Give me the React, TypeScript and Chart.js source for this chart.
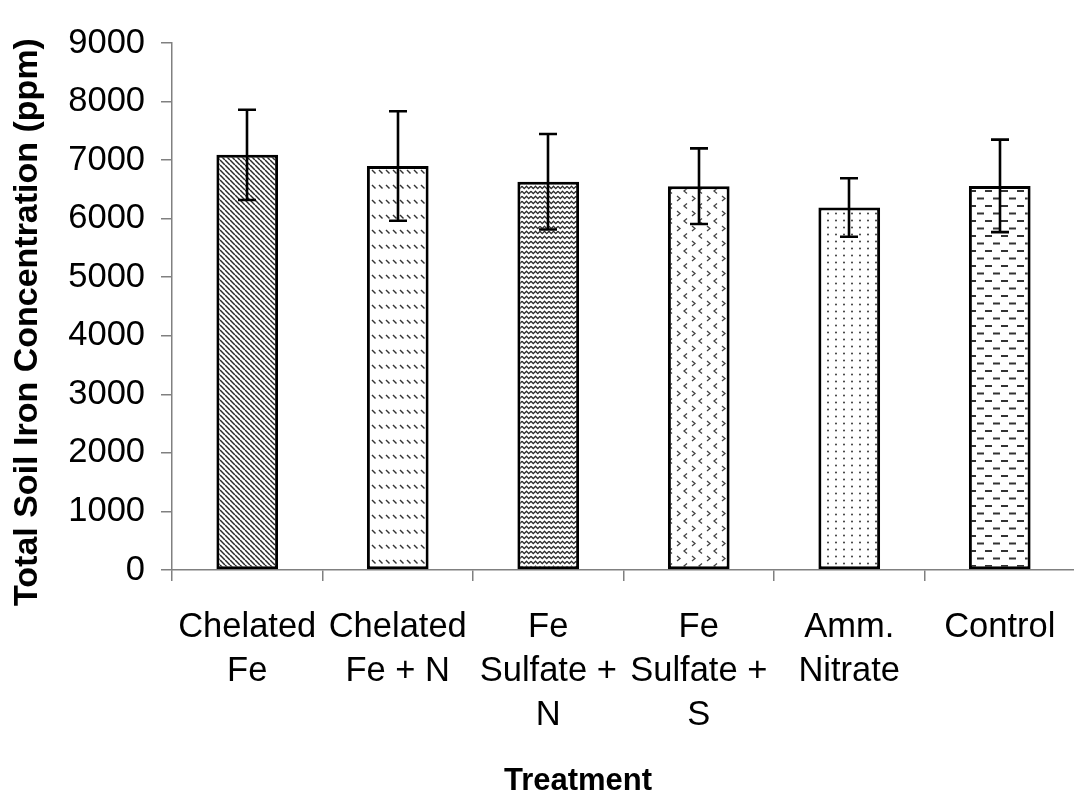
import React, { useEffect, useRef } from "react";
import { Chart, registerables } from "chart.js";

Chart.register(...registerables);

const categories: string[][] = [
  ["Chelated", "Fe"],
  ["Chelated", "Fe + N"],
  ["Fe", "Sulfate +", "N"],
  ["Fe", "Sulfate +", "S"],
  ["Amm.", "Nitrate"],
  ["Control"],
];
const meanIron = [7090, 6900, 6630, 6555, 6190, 6560];
const errorIron = [770, 935, 815, 645, 500, 790];
const yMin = 0;
const yMax = 9000;
const yStep = 1000;
const yTitle = "Total Soil Iron Concentration (ppm)";
const xTitle = "Treatment";

const FONT = "'Liberation Sans', Arial, sans-serif";

function makeTile(w: number, h: number, draw: (g: CanvasRenderingContext2D) => void) {
  const c = document.createElement("canvas");
  c.width = w;
  c.height = h;
  const g = c.getContext("2d")!;
  g.fillStyle = "#ffffff";
  g.fillRect(0, 0, w, h);
  draw(g);
  return c;
}

function buildPatterns(ctx: CanvasRenderingContext2D) {
  const tiles: HTMLCanvasElement[] = [];
  // 1: dense downward diagonal lines
  tiles.push(
    makeTile(5, 5, (g) => {
      g.strokeStyle = "#2a2a2a";
      g.lineWidth = 1.5;
      for (const k of [-5, 0, 5]) {
        g.beginPath();
        g.moveTo(k, 0);
        g.lineTo(k + 5, 5);
        g.stroke();
      }
    })
  );
  // 2: dashed downward diagonal rows
  tiles.push(
    makeTile(7, 15, (g) => {
      g.strokeStyle = "#333";
      g.lineWidth = 1.4;
      g.beginPath();
      g.moveTo(1, 5);
      g.lineTo(4.5, 8.5);
      g.stroke();
    })
  );
  // 3: waves
  tiles.push(
    makeTile(9, 5, (g) => {
      g.strokeStyle = "#2a2a2a";
      g.lineWidth = 1.3;
      g.beginPath();
      g.moveTo(0, 1.2);
      g.lineTo(2.25, 3.6);
      g.lineTo(4.5, 1.2);
      g.lineTo(6.75, 3.6);
      g.lineTo(9, 1.2);
      g.stroke();
    })
  );
  // 4: chevrons (divot)
  tiles.push(
    makeTile(15, 15, (g) => {
      g.strokeStyle = "#444";
      g.lineWidth = 1.3;
      g.beginPath();
      g.moveTo(2, 1);
      g.lineTo(5, 3.5);
      g.lineTo(2, 6);
      g.stroke();
      g.beginPath();
      g.moveTo(12, 8.5);
      g.lineTo(9, 11);
      g.lineTo(12, 13.5);
      g.stroke();
    })
  );
  // 5: dots
  tiles.push(
    makeTile(8, 7, (g) => {
      g.fillStyle = "#333";
      g.beginPath();
      g.arc(4, 3.5, 0.95, 0, Math.PI * 2);
      g.fill();
    })
  );
  // 6: horizontal dashes, staggered
  tiles.push(
    makeTile(16, 15, (g) => {
      g.strokeStyle = "#333";
      g.lineWidth = 2;
      g.beginPath();
      g.moveTo(1, 3.5);
      g.lineTo(8, 3.5);
      g.moveTo(9, 11);
      g.lineTo(16, 11);
      g.stroke();
    })
  );
  return tiles.map((t) => ctx.createPattern(t, "repeat")!);
}

const errorBarPlugin = {
  id: "errorBars",
  afterDatasetsDraw(chart: any) {
    const ctx = chart.ctx;
    const meta = chart.getDatasetMeta(0);
    const ys = chart.scales.y;
    ctx.save();
    ctx.strokeStyle = "#000";
    ctx.lineWidth = 2.6;
    meta.data.forEach((bar: any, i: number) => {
      const x = Math.round(bar.x);
      const top = ys.getPixelForValue(meanIron[i] + errorIron[i]);
      const bot = ys.getPixelForValue(meanIron[i] - errorIron[i]);
      ctx.beginPath();
      ctx.moveTo(x, top);
      ctx.lineTo(x, bot);
      ctx.moveTo(x - 9, top);
      ctx.lineTo(x + 9, top);
      ctx.moveTo(x - 9, bot);
      ctx.lineTo(x + 9, bot);
      ctx.stroke();
    });
    ctx.restore();
  },
};

const titlePlugin = {
  id: "customTitles",
  afterDraw(chart: any) {
    const ctx = chart.ctx;
    ctx.save();
    ctx.fillStyle = "#000";
    ctx.font = `bold 34px ${FONT}`;
    ctx.textAlign = "center";
    ctx.textBaseline = "middle";
    ctx.translate(28, 322);
    ctx.rotate(-Math.PI / 2);
    ctx.fillText(yTitle, 0, 0);
    ctx.restore();
    ctx.save();
    ctx.fillStyle = "#000";
    ctx.font = `bold 31px ${FONT}`;
    ctx.textAlign = "center";
    ctx.textBaseline = "middle";
    ctx.fillText(xTitle, 578, 781);
    ctx.restore();
  },
};

export default function App() {
  const canvasRef = useRef<HTMLCanvasElement | null>(null);

  useEffect(() => {
    const canvas = canvasRef.current!;
    const ctx = canvas.getContext("2d")!;
    const patterns = buildPatterns(ctx);
    const chart = new Chart(canvas, {
      type: "bar",
      data: {
        labels: categories,
        datasets: [
          {
            data: meanIron,
            backgroundColor: patterns as any,
            borderColor: "#000",
            borderWidth: 3,
            borderSkipped: false,
            barPercentage: 0.41,
            categoryPercentage: 1,
          },
        ],
      },
      options: {
        animation: false,
        responsive: false,
        devicePixelRatio: 1,
        layout: { padding: { top: 43, left: 0, right: 0, bottom: 0 } },
        plugins: {
          legend: { display: false },
          tooltip: { enabled: false },
          title: { display: false },
        },
        scales: {
          x: {
            grid: {
              display: true,
              drawOnChartArea: false,
              drawTicks: true,
              tickLength: 11,
              color: "#808080",
              lineWidth: 1.5,
              offset: true,
            },
            border: { display: true, color: "#808080", width: 1.5 },
            ticks: {
              color: "#000",
              font: { family: FONT, size: 34.5, lineHeight: 44 / 34.5 },
              padding: 24,
              maxRotation: 0,
              minRotation: 0,
              autoSkip: false,
            },
            afterFit: (s: any) => {
              s.height = 231;
              s.paddingLeft = 0;
              s.paddingRight = 0;
            },
          },
          y: {
            min: yMin,
            max: yMax,
            grid: {
              display: true,
              drawOnChartArea: false,
              drawTicks: true,
              tickLength: 11,
              color: "#808080",
              lineWidth: 1.5,
            },
            border: { display: true, color: "#808080", width: 1.5 },
            ticks: {
              stepSize: yStep,
              color: "#000",
              font: { family: FONT, size: 34.5 },
              padding: 16,
              callback: (v: any) => String(v),
            },
            afterFit: (s: any) => {
              s.width = 172;
            },
          },
        },
      },
      plugins: [errorBarPlugin, titlePlugin],
    });
    return () => chart.destroy();
  }, []);

  return (
    <div
      style={{
        position: "absolute",
        left: 0,
        top: 0,
        width: 1074,
        height: 801,
        overflow: "hidden",
        background: "#fff",
      }}
    >
      <canvas ref={canvasRef} width={1075} height={801} style={{ width: 1075, height: 801, display: "block" }} />
    </div>
  );
}
